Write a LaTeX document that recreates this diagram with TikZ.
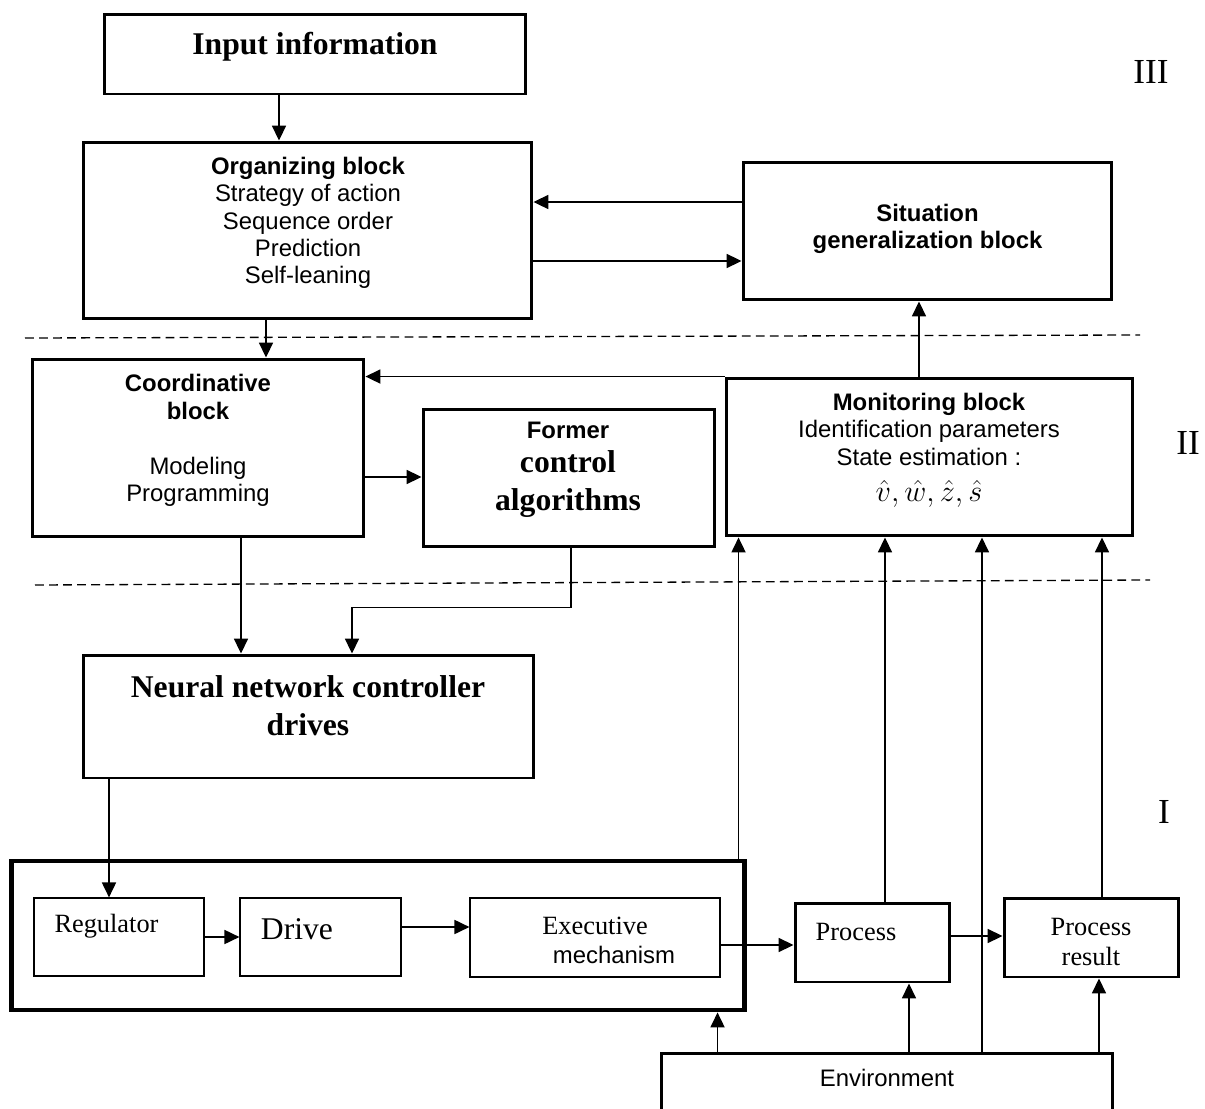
\documentclass[tikz,border=0pt]{standalone}
\usepackage{fontspec}
\setmainfont{Liberation Serif}
\setsansfont{Liberation Sans}
\usepackage{tikz}
\usetikzlibrary{arrows.meta, positioning}

\tikzset{
  box/.style={draw, line width=1.7pt, inner sep=0pt},
  thinbox/.style={draw, line width=0.7pt, inner sep=0pt},
  bigbox/.style={draw, line width=2.8pt, inner sep=0pt},
  arr/.style={line width=0.85pt, -{Triangle[length=8.5pt,width=8pt]}},
  levelline/.style={line width=0.75pt, dash pattern=on 5pt off 3pt},
  sanstext/.style={font=\sffamily\fontsize{13.6}{15.6}\selectfont, align=center, inner sep=0pt},
  seriftext/.style={font=\fontsize{15}{17}\selectfont, align=center, inner sep=0pt},
  bigtext/.style={font=\bfseries\fontsize{18}{21.6}\selectfont, align=center, inner sep=0pt},
  levelname/.style={font=\fontsize{20}{22}\selectfont, inner sep=0pt}
}

\begin{document}
\begin{tikzpicture}[x=0.02cm, y=-0.02cm]
        \clip (0,0) rectangle (1205,1109);

        % level III
        \node[box, minimum width=8.43cm, minimum height=1.6cm] (inp) at (315,54) {};
        \node[bigtext] (inptext) at (315,47) {Input information};

        \node[box, minimum width=8.98cm, minimum height=3.54cm] (org) at (307.5,230.5) {};
        \node[sanstext] (orgtext) at (308,223) {\textbf{Organizing block}\\Strategy of action\\Sequence order\\Prediction\\Self-leaning};

        \node[box, minimum width=7.38cm, minimum height=2.76cm] (sit) at (927.5,231) {};
        \node[sanstext, font=\sffamily\bfseries\fontsize{13.6}{15.6}\selectfont] (sittext) at (927.5,229) {Situation\\generalization block};

        % level II
        \node[box, minimum width=6.64cm, minimum height=3.56cm] (coord) at (198,448) {};
        \node[sanstext] (coordtext) at (198,440.5) {\textbf{Coordinative}\\\textbf{block}\\[15.6pt]Modeling\\Programming};

        \node[box, minimum width=5.84cm, minimum height=2.76cm] (former) at (569,478) {};
        \node[bigtext] (formertext) at (568,470) {{\sffamily\fontsize{13.6}{15.6}\selectfont Former}\\[-2pt]control\\algorithms};

        \node[box, minimum width=8.14cm, minimum height=3.16cm] (mon) at (929.5,457) {};
        \node[sanstext] (montext) at (929,450) {\textbf{Monitoring block}\\Identification parameters\\State estimation :\\[5pt]{\fontsize{18}{20}\selectfont$\hat{v},\hat{w},\hat{z},\hat{s}$}};

        % level I
        \node[box, minimum width=9.02cm, minimum height=2.46cm] (nn) at (308.5,716.5) {};
        \node[bigtext] (nntext) at (308,706) {Neural network controller\\drives};

        \node[bigbox, minimum width=14.67cm, minimum height=2.98cm] (drv) at (378,935.5) {};
        \node[thinbox, minimum width=3.4cm, minimum height=1.56cm] (reg) at (119,937) {};
        \node[seriftext] (regtext) at (106.5,926) {Regulator};
        \node[thinbox, minimum width=3.22cm, minimum height=1.56cm] (drive) at (320.5,937) {};
        \node[seriftext, font=\fontsize{18}{20}\selectfont] (drivetext) at (297,929) {Drive};
        \node[thinbox, minimum width=5cm, minimum height=1.58cm] (exec) at (595,937.5) {};
        \node[seriftext] (exectext) at (595,926) {Executive};
        \node[sanstext] (exectext2) at (614,955) {mechanism};

        \node[box, minimum width=3.1cm, minimum height=1.58cm] (proc) at (872.5,942.5) {};
        \node[seriftext] (proctext) at (856,932) {Process};
        \node[box, minimum width=3.5cm, minimum height=1.58cm] (res) at (1091.5,937.5) {};
        \node[seriftext] (restext) at (1091,942) {Process\\result};

        \node[box, minimum width=9.04cm, minimum height=1.44cm] (env) at (887,1089) {};
        \node[sanstext] (envtext) at (887,1078) {Environment};

        \node[levelname] (lIII) at (1151,72) {III};
        \node[levelname] (lII) at (1188,443) {II};
        \node[levelname] (lI) at (1164,812) {I};

        % level borders
        \draw[levelline] (25,338) -- (1140,335);
        \draw[levelline] (35,585) -- (1150,580);

        % connections
        \draw[arr] ([xshift=-0.72cm]inp.south) -- ([xshift=-0.72cm]inp.south |- org.north);
        \draw[arr] ([yshift=0.58cm]sit.west) -- ([yshift=0.58cm]sit.west -| org.east);
        \draw[arr] ([yshift=-0.6cm]sit.west -| org.east) -- ([yshift=-0.6cm]sit.west);
        \draw[arr] ([xshift=-0.83cm]org.south) -- ([xshift=-0.83cm]org.south |- coord.north);
        \draw[arr] ([xshift=-0.21cm]mon.north) -- ([xshift=-0.21cm]mon.north |- sit.south);
        \draw[arr] (mon.north west) -- (mon.north west -| coord.east);
        \draw[arr] ([yshift=-0.58cm]coord.east) -- ([yshift=-0.58cm]coord.east -| former.west);
        \draw[arr] ([xshift=0.86cm]coord.south) -- ([xshift=0.86cm]coord.south |- nn.north);
        \draw[arr] ([xshift=0.04cm]former.south) -- ++(0,59) -| ([xshift=0.87cm]nn.north);
        \draw[arr] ([xshift=-0.2cm]reg.north |- nn.south) -- ([xshift=-0.2cm]reg.north);
        \draw[arr] (reg.east) -- (drive.west);
        \draw[arr] ([yshift=0.2cm]drive.east) -- ([yshift=0.2cm]drive.east -| exec.west);
        \draw[arr] ([yshift=-0.15cm]exec.east) -- ([yshift=-0.15cm]exec.east -| proc.west);
        \draw[arr] ([yshift=0.13cm]proc.east) -- ([yshift=0.13cm]proc.east -| res.west);

        \draw[arr] ([xshift=0.28cm]mon.south west |- drv.north) -- ([xshift=0.28cm]mon.south west);
        \draw[arr] ([xshift=0.25cm]proc.north) -- ([xshift=0.25cm]proc.north |- mon.south);
        \draw[arr] ([xshift=1.9cm]env.north) -- ([xshift=1.9cm]env.north |- mon.south);
        \draw[arr] ([xshift=0.21cm]res.north) -- ([xshift=0.21cm]res.north |- mon.south);

        \draw[arr] ([xshift=1.16cm]env.north west) -- ([xshift=1.16cm]env.north west |- drv.south);
        \draw[arr] ([xshift=0.73cm]proc.south |- env.north) -- ([xshift=0.73cm]proc.south);
        \draw[arr] ([xshift=0.15cm]res.south |- env.north) -- ([xshift=0.15cm]res.south);
\end{tikzpicture}
\end{document}
